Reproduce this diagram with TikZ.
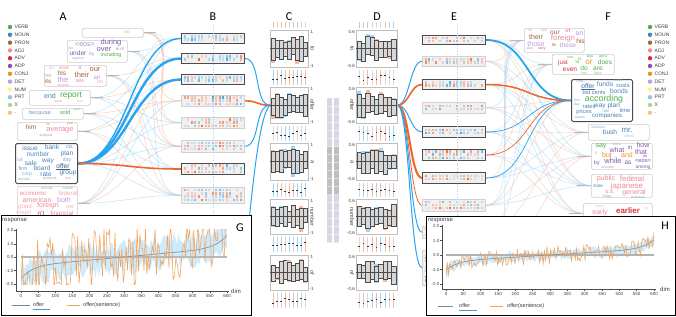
\documentclass[tikz,border=0pt]{standalone}
\usepackage{fontspec}
\setmainfont{Liberation Sans}
\newfontfamily\labfont{Carlito}
\usetikzlibrary{calc}
\pgfdeclarelayer{bg}
\pgfsetlayers{bg,main}
\definecolor{cblue}{HTML}{29A3EF}
\definecolor{corange}{HTML}{F0652A}
\definecolor{cverb}{HTML}{4FAE4A}
\definecolor{cnoun}{HTML}{4A83B8}
\definecolor{cpron}{HTML}{A8603A}
\definecolor{cadj}{HTML}{EE8A98}
\definecolor{cadv}{HTML}{D9303E}
\definecolor{cadp}{HTML}{7F58B0}
\definecolor{cconj}{HTML}{F7901E}
\definecolor{cdet}{HTML}{BC9EDA}
\definecolor{cnum}{HTML}{FFF38A}
\definecolor{cprt}{HTML}{9CC2E8}
\definecolor{cx}{HTML}{A9D889}
\definecolor{cpun}{HTML}{F9C48B}
\definecolor{lorange}{HTML}{EFA35C}
\definecolor{lav}{HTML}{D8D8E4}
\definecolor{sline}{HTML}{6F8AA3}
\newcounter{wc}
\newcommand{\cw}[5]{\stepcounter{wc}\pgfmathsetmacro\fsz{#3*0.88}\node[wtxt, font=\fontsize{\fsz}{\fsz}\selectfont, text=#4] (w\thewc) at (#1,#2) {#5};}
\newcommand{\cwu}[5]{\cw{#1}{#2}{#3}{#4}{#5}\draw[#4, line width=0.4pt] ($(w\thewc.south west)+(0,0.6)$) -- ($(w\thewc.south east)+(0,0.6)$);}
\newcommand{\conn}[4][]{\draw[#1] (#2) .. controls +(#4,0) and +(-#4,0) .. (#3);}
\newcommand{\heat}[7]{%
  \node[#7, minimum width=63pt, minimum height=#4pt] (#1) at (#2,#3) {};%
  \foreach \i in {0,...,16}{\foreach \j in {1,...,#5}{%
    \pgfmathsetmacro\rr{rnd}%
    \pgfmathsetmacro\oo{0.2+0.8*rnd*rnd}%
    \pgfmathsetmacro\yy{#3+(#4-((#5-1)*3.2+2.4))/2+(\j-1)*3.2}%
    \pgfmathsetmacro\xx{#2+2.5+\i*3.5}%
    \ifdim\rr pt<0.25pt\relax\else
      \ifdim\rr pt<#6pt\def\hcol{cblue}\else\def\hcol{corange}\fi
      \fill[fill=\hcol, fill opacity=\oo] (\xx,\yy) rectangle +(2.4,2.4);%
    \fi}}%
}
\newcommand{\cpanel}[5]{%
  \node[pframe, minimum width=#4pt, minimum height=#5pt] (#1) at (#2,#3) {};%
  \pgfmathsetmacro\pnCy{#3+#5/2}%
  \pgfmathsetmacro\pnBw{(#4-2)/9}%
  \foreach \i in {0,...,8}{%
    \pgfmathsetmacro\pnX{#2+1+\i*\pnBw}%
    \pgfmathsetmacro\pnU{#5/2*(0.3+0.4*rnd)}%
    \pgfmathsetmacro\pnD{#5/2*(0.3+0.4*rnd)}%
    \pgfmathsetmacro\pnCU{\pnU*(0.75+0.55*rnd)}%
    \pgfmathsetmacro\pnCD{\pnD*(0.75+0.55*rnd)}%
    \pgfmathsetmacro\rr{rnd}%
    \ifdim\rr pt<0.5pt\def\hcol{cblue!45}\else\def\hcol{corange!45}\fi
    \fill[fill=\hcol] (\pnX,\pnCy-\pnCU) rectangle (\pnX+\pnBw,\pnCy+\pnCD);%
    \filldraw[fill=gray!30, fill opacity=0.9, draw=black!70, line width=0.5pt] (\pnX,\pnCy-\pnU) rectangle (\pnX+\pnBw,\pnCy+\pnD);%
  }%
  \draw[black!70, line width=0.4pt] (#2,\pnCy) -- (#2+#4,\pnCy);%
}
\newcommand{\spark}[5]{%
  \pgfmathsetmacro\skBw{(#3-2)/9}%
  \foreach \i in {0,...,8}{%
    \pgfmathsetmacro\skX{#1+1+(\i+0.5)*\skBw}%
    \pgfmathsetmacro\rr{rnd}%
    \ifdim\rr pt<0.4pt\def\hcol{gray!30}\else\ifdim\rr pt<0.7pt\def\hcol{cblue!45}\else\def\hcol{corange!45}\fi\fi
    \draw[draw=\hcol, line width=0.9pt] (\skX,#2) -- (\skX,#2+#4);%
    \ifnum#5=1 \pgfmathsetmacro\skY{#2+#4*(0.35+0.35*rnd)}\fill[black!80] (\skX-0.8,\skY-0.4) rectangle (\skX+0.8,\skY+0.4);\fi
  }%
}
\begin{document}
\begin{tikzpicture}[x=1pt,y=-1pt,
  declare function={uu(\argx)=(\argx-300)/300; gf(\argx)=0.7*uu(\argx)+0.9*uu(\argx)^9; hf(\argx)=0.45*uu(\argx)+0.6*uu(\argx)^9;},
  wtxt/.style={inner sep=0pt, outer sep=0pt},
  cbox/.style={draw=gray!40, line width=0.6pt, rounded corners=1.5pt, fill=white, inner sep=0pt, anchor=north west},
  cboxhl/.style={cbox, draw=black!70, line width=1pt},
  hbox/.style={draw=gray!35, fill=gray!12, line width=0.6pt, inner sep=0pt, anchor=north west},
  hboxhl/.style={hbox, draw=black!70, line width=1pt},
  pframe/.style={draw=gray!50, fill=white, line width=0.4pt, inner sep=0pt, anchor=north west},
  ptxt/.style={inner sep=0pt, font=\fontsize{4.5}{4.5}\selectfont, text=black!75},
  legtxt/.style={inner sep=0pt, anchor=west, font=\fontsize{5}{5}\selectfont, text=black!75},
  axtxt/.style={inner sep=0pt, font=\fontsize{4.5}{4.5}\selectfont, text=black!75},
  bigl/.style={inner sep=0pt, font=\labfont\fontsize{12}{12}\selectfont},
  faint/.style={line width=0.7pt, opacity=0.4},
  stub/.style={draw=gray!55, line width=0.9pt},
  panelbox/.style={draw=black, line width=0.8pt, fill=white, inner sep=0pt, anchor=north west}
]
\useasboundingbox (0,0) rectangle (676,316);
\pgfmathsetseed{11}

% ---------- column letters
\node[bigl] (LA) at (63,17) {A};
\node[bigl] (LB) at (213,17) {B};
\node[bigl] (LC) at (289,17) {C};
\node[bigl] (LD) at (377,17) {D};
\node[bigl] (LE) at (454,17) {E};
\node[bigl] (LF) at (608,17) {F};

% ---------- legends
\foreach \lab/\col [count=\k] in {VERB/cverb, NOUN/cnoun, PRON/cpron, ADJ/cadj, ADV/cadv, ADP/cadp, CONJ/cconj, DET/cdet, NUM/cnum, PRT/cprt, X/cx, ./cpun}{
  \pgfmathsetmacro\ly{27+(\k-1)*7.8}
  \fill[fill=\col] (10,\ly) circle (2.2);
  \node[legtxt] (LL\k) at (14.5,\ly) {\lab};
  \fill[fill=\col] (650,\ly) circle (2.2);
  \node[legtxt] (RL\k) at (654.5,\ly) {\lab};
}

% ---------- A boxes
\node[cbox, minimum width=61pt, minimum height=9pt] (A1) at (82,28) {};
\node[cbox, minimum width=60pt, minimum height=22pt] (A2) at (67,40) {};
\node[cbox, minimum width=62pt, minimum height=21pt] (A3) at (44,65) {};
\node[cbox, minimum width=61pt, minimum height=15pt] (A4) at (29,90) {};
\node[cbox, minimum width=61pt, minimum height=11pt] (A5) at (22,108) {};
\node[cbox, minimum width=60pt, minimum height=18pt] (A6) at (17,122) {};
\node[cboxhl, minimum width=62pt, minimum height=40pt] (A7) at (15,143) {};
\node[cbox, minimum width=60pt, minimum height=34pt] (A8) at (17,186) {};

% A words
\cw{127}{31.5}{5}{cx}{did}
\cw{85}{44}{8}{cadp!70}{<eos>}
\cw{111}{42.5}{8.5}{cadp}{during}
\cw{71}{48}{4}{cdet}{like}
\cw{104}{49.5}{8.5}{cadp}{over}
\cw{120}{48.5}{5}{cadp!70}{in of}
\cw{78}{53}{7.5}{cadp}{under}
\cw{92}{54.5}{5.5}{cadp!70}{by}
\cw{111}{55}{6}{cverb}{including}
\cw{78}{58.5}{4}{cadp!60}{against}
\cw{52}{68}{5}{cprt}{mr.}
\cw{64}{68}{5}{cadj}{more}
\cw{80}{68.5}{6}{cdet}{a}
\cw{95}{69.5}{8.5}{cpron}{our}
\cw{62}{73.5}{7.5}{cpron}{his}
\cw{82}{75}{8.5}{cpron}{their}
\cw{97}{77.5}{7}{cdet}{an}
\cw{48}{76}{6}{cpron!60}{her}
\cw{63}{79.8}{9}{cdet}{the}
\cw{48}{81.5}{7}{cpron}{its}
\cw{80}{81.5}{6}{cadj}{ass}
\cw{100}{81.5}{6}{cadj!70}{ho}
\cw{63}{85}{4}{cadj}{several}
\cw{50}{96}{8}{cnoun}{end}
\cw{71}{95.5}{9.5}{cverb}{report}
\cw{58}{101}{4}{cadj}{such}
\cw{80}{101}{4}{cx}{five}
\cw{40}{112.5}{6.5}{cnoun!80}{because}
\cw{65}{112.5}{6.5}{cverb}{sold}
\cw{77}{110}{4}{cnoun!60}{year}
\cw{31}{127.5}{7.5}{cpron}{him}
\cw{48}{124}{4}{cpron!70}{he}
\cw{70}{124}{4}{cpron!70}{you}
\cw{60}{130}{8.5}{cadj}{average}
\cw{46}{136}{4}{cnoun!70}{analysis}
\cw{30}{148}{7.5}{cnoun}{issue}
\cw{52}{147}{7.5}{cnoun}{bank}
\cw{70}{147.5}{6}{cnoun}{co.}
\cw{38}{154.5}{7.5}{cnoun}{number}
\cw{67}{154}{7.5}{cnoun}{plan}
\cw{20}{160}{5}{cnoun!70}{bill}
\cw{31}{163.5}{7.5}{cnoun}{sale}
\cw{48}{161}{7.5}{cnoun}{way}
\cw{67}{160}{6}{cnoun!70}{day}
\cw{23}{168.6}{6}{cnoun!80}{firm}
\cw{42}{168}{7.5}{cnoun}{board}
\cwu{63}{166.5}{7.5}{cnoun!70!black}{offer}
\cw{27}{174.3}{6}{cnoun!60}{corp}
\cw{46}{174}{7.5}{cnoun}{rate}
\cw{68}{173}{7.5}{cnoun}{group}
\cw{24}{179.3}{4}{cnoun!70}{records}
\cw{50}{179}{4}{cnoun!70}{products}
\cw{68}{179}{4}{cadj}{yen}
\cw{47}{188.5}{4.5}{cnoun!60}{money}
\cw{68}{188.5}{4.5}{cnoun!60}{house}
\cw{33}{193}{7}{cadj}{economic}
\cw{68}{193}{7}{cadj!70}{federal}
\cw{37}{199.5}{8}{cadj}{american}
\cw{64}{200}{8}{cdet}{both}
\cw{25}{206.5}{7}{cadj!70}{good}
\cw{48}{206}{8}{cadj}{foreign}
\cw{70}{206.5}{6}{cadj!70}{net}
\cw{24}{213}{7}{cadj!60}{major}
\cw{41}{213}{7}{cadv}{n't}
\cw{62}{213}{7}{cadj}{financial}

% ---------- B heat boxes
\heat{B1}{181}{33}{10}{2}{0.75}{hboxhl}
\heat{B2}{181}{53}{10}{2}{0.8}{hboxhl}
\heat{B3}{181}{74}{10}{2}{0.7}{hboxhl}
\heat{B4}{181}{95}{11}{3}{0.42}{hbox}
\heat{B5}{181}{117}{11}{3}{0.45}{hbox}
\heat{B6}{181}{140}{12}{3}{0.6}{hbox}
\heat{B7}{181}{163}{11}{3}{0.4}{hboxhl}
\heat{B8}{181}{187}{16}{4}{0.55}{hbox}

% ---------- E heat boxes
\heat{E1}{422}{35}{9}{2}{0.6}{hboxhl}
\heat{E2}{422}{56}{10}{2}{0.55}{hbox}
\heat{E3}{422}{79}{10}{2}{0.6}{hboxhl}
\heat{E4}{422}{102}{11}{2}{0.5}{hbox}
\heat{E5}{422}{126}{11}{2}{0.7}{hboxhl}
\heat{E6}{422}{149}{11}{3}{0.55}{hboxhl}
\heat{E7}{422}{172}{11}{2}{0.6}{hboxhl}
\heat{E8}{422}{199}{12}{3}{0.45}{hbox}
\heat{E9}{422}{226}{12}{3}{0.5}{hbox}
\heat{E10}{422}{250}{35}{9}{0.5}{hbox}
\draw[cblue!45, dotted, line width=0.6pt] (213,25) -- (213,215);
\draw[cblue!45, dotted, line width=0.6pt] (457,25) -- (457,216);

% ---------- F boxes
\node[cbox, minimum width=60pt, minimum height=24pt] (F1) at (524,28) {};
\node[cbox, minimum width=62pt, minimum height=20pt] (F2) at (552,54) {};
\node[cboxhl, minimum width=61pt, minimum height=42pt] (F3) at (571,79) {};
\node[cbox, minimum width=61pt, minimum height=16pt] (F4) at (588,124) {};
\node[cbox, minimum width=61pt, minimum height=26pt] (F5) at (591,143) {};
\node[cbox, minimum width=61pt, minimum height=23pt] (F6) at (591,174) {};
\node[cbox, minimum width=69pt, minimum height=20pt] (F7) at (583,203) {};

% F words
\cw{530}{30.5}{4}{cpron!60}{he}
\cw{544}{30.5}{4}{cdet}{any}
\cw{555}{32.3}{7.5}{cpron}{our}
\cw{568}{31}{5}{cadv}{n't}
\cw{579.5}{34}{8}{cdet}{an}
\cw{536}{36.8}{8}{cpron}{their}
\cw{563}{38.8}{9}{cadj}{foreign}
\cw{580.5}{41.3}{7.5}{cpron}{his}
\cw{536}{43.8}{8}{cdet}{those}
\cw{554}{45}{5}{cpron}{its}
\cw{568}{45}{7.5}{cdet}{these}
\cw{530}{48.5}{4}{cnoun!70}{also}
\cw{542}{48.5}{4}{cadv}{very}
\cw{570}{57.5}{4}{cverb}{can}
\cw{580}{58.5}{5}{cverb}{is}
\cw{590}{56.5}{4}{cverb}{also}
\cw{603}{56.5}{4}{cverb}{were}
\cw{563}{63}{7}{cadv}{just}
\cw{577}{62.5}{5}{cverb}{'re}
\cw{589}{62.3}{9}{cconj}{or}
\cw{605}{62}{7.5}{cverb}{does}
\cw{570}{69.5}{7.5}{cadv}{even}
\cw{584}{68.6}{7.5}{cverb}{do}
\cw{598}{68.6}{7.5}{cverb}{are}
\cw{584}{73.2}{4}{cverb!70}{has}
\cw{598}{73.2}{4}{cverb!70}{have}
\cw{580}{81.5}{4}{cnoun!70}{corp.}
\cw{618}{80.6}{4}{cnoun!70}{court}
\cwu{588}{86}{7.5}{cnoun!80!black}{offer}
\cw{605}{84.2}{7.5}{cnoun}{funds}
\cw{623}{85.8}{6.5}{cnoun}{costs}
\cw{594}{92.3}{6.5}{cnoun}{bid cents}
\cw{619}{91.3}{7.5}{cnoun}{bonds}
\cw{604}{99.3}{10}{cverb}{according}
\cw{577}{100.5}{4}{cnoun!70}{firm}
\cw{577}{104.5}{4}{cnoun!70}{day}
\cw{607}{105.8}{7.5}{cnoun}{way plan}
\cw{589}{106.8}{6.5}{cnoun}{rates}
\cw{625}{110.8}{6.5}{cnoun}{time}
\cw{584}{112}{6.5}{cnoun}{prices}
\cw{606}{111.4}{4.5}{cnoun!70}{rate}
\cw{580}{117.2}{4}{cnoun!70}{assets}
\cw{607}{116}{7}{cnoun}{companies}
\cw{598}{127}{4}{cnoun!70}{investors}
\cw{610}{132}{7.5}{cnoun}{bush}
\cw{627}{130}{9}{cnoun}{mr.}
\cw{629}{136.5}{4}{cnoun!50}{others}
\cw{601}{146}{8}{cverb}{say}
\cw{617}{144.3}{4}{cadp!60}{since}
\cw{630}{147}{6.5}{cadp}{in}
\cw{643}{145.4}{8}{cadp}{how}
\cw{617}{150}{8}{cadp}{what}
\cw{596}{153}{4}{cadp!60}{if}
\cw{607}{155}{8}{cconj}{but}
\cw{627}{155}{8}{cconj}{and}
\cw{641}{151.8}{8}{cadp}{that}
\cw{645}{156.4}{4.5}{cadp}{on}
\cw{597}{163}{6}{cadp}{by}
\cw{613}{161}{8.5}{cadp}{while}
\cw{628}{163}{7.5}{cadp}{as}
\cw{643}{161}{6.5}{cadp}{<eos>}
\cw{608}{166.8}{4}{cadp!60}{at under}
\cw{643}{167.6}{5.5}{cadp}{among}
\cw{606}{179}{8}{cadj}{public}
\cw{632}{178.4}{9}{cadj}{federal}
\cw{598}{186}{5}{cnoun}{state}
\cw{627}{186}{9}{cadj}{japanese}
\cw{610}{191.5}{6.5}{cadj}{u.s.}
\cw{634}{192.2}{8}{cadj}{general}
\cw{607}{196.5}{4}{cnoun!70}{friday}
\cw{638}{197}{4}{cnoun!60}{chairman}
\cw{600}{207}{4}{cadj!70}{own a}
\cw{600}{212.5}{8}{cadj}{early}
\cw{628}{211}{9}{cadv}{\bfseries earlier}
\cw{646}{208}{4}{cadj!70}{of}

% ---------- C and D panels
\foreach \yy/\hh/\dd in {22/6/0, 70/15/1, 126/15/1, 183/14/1, 237/15/1, 293/15/1}{
  \spark{270}{\yy}{38}{\hh}{\dd}
  \spark{356}{\yy}{41}{\hh}{\dd}
}
\cpanel{C1}{270}{30}{38}{37}
\cpanel{C2}{270}{87}{38}{36}
\cpanel{C3}{270}{143}{38}{37}
\cpanel{C4}{270}{199}{38}{35}
\cpanel{C5}{270}{255}{38}{35}
\cpanel{D1}{356}{30}{41}{37}
\cpanel{D2}{356}{87}{41}{36}
\cpanel{D3}{356}{143}{41}{37}
\cpanel{D4}{356}{199}{41}{35}
\cpanel{D5}{356}{255}{41}{35}
\foreach \nm/\wrd [count=\k] in {C1/to, C2/offer, C3/a, C4/number, C5/of}{
  \node[ptxt, anchor=west] (Ct\k) at ($(\nm.north east)+(2,1.5)$) {1};
  \node[ptxt, anchor=west] (Cb\k) at ($(\nm.south east)+(1,-1.5)$) {-1};
  \node[ptxt, rotate=-90, font=\fontsize{5.5}{5.5}\selectfont] (Cw\k) at ($(\nm.east)+(4,0)$) {\wrd};
}
\foreach \nm/\wrd [count=\k] in {D1/to, D2/offer, D3/a, D4/number, D5/of}{
  \node[ptxt, anchor=east] (Dt\k) at ($(\nm.north west)+(-1,1.5)$) {0.6};
  \node[ptxt, anchor=east] (Db\k) at ($(\nm.south west)+(-1,-1.5)$) {-0.6};
  \node[ptxt, rotate=-90, font=\fontsize{5.5}{5.5}\selectfont] (Dw\k) at ($(\nm.west)+(-4,0)$) {\wrd};
}

% ---------- middle bars
\fill[lav] (327,98) rectangle (332,243);
\fill[lav] (334,98) rectangle (339,243);
\fill[gray!50] (327,147) rectangle (332,195);
\fill[gray!50] (334,147) rectangle (339,195);
\foreach \yy in {106,114,...,242}{\draw[white, opacity=0.5, line width=0.3pt] (327,\yy) -- (332,\yy) (334,\yy) -- (339,\yy);}

% ---------- connectors on background layer
\coordinate (gend) at (249,222);
\begin{pgfonlayer}{bg}
  \foreach \a in {A1,A2,A3,A4,A5,A6,A7,A8}{\draw[stub] (\a.east) -- ++(12,0);}
  \foreach \f in {F1,F2,F3,F4,F5,F6,F7}{\draw[stub] (\f.west) -- ++(-14,0);}
  \foreach \a/\b/\c in {A1/B4/corange, A1/B5/corange, A1/B2/cblue, A1/B6/corange, A2/B1/cblue, A2/B5/cblue, A2/B6/corange, A2/B8/cblue,
     A3/B2/corange, A3/B6/cblue, A3/B7/cblue, A3/B8/corange, A4/B1/cblue, A4/B5/gray, A4/B3/corange, A4/B7/cblue,
     A5/B2/cblue, A5/B6/gray, A5/B8/cblue, A6/B3/cblue, A6/B4/corange, A6/B7/cblue, A6/B8/corange, A7/B5/cblue,
     A7/B6/cblue, A7/B8/cblue, A8/B1/cblue, A8/B3/corange, A8/B4/cblue, A8/B8/cblue, A8/B6/corange, A5/B4/corange}{
    \conn[faint, draw=\c!60]{\a.east}{\b.west}{45}
  }
  \foreach \a/\b/\c in {E1/F1/corange, E1/F2/cblue, E1/F5/cblue, E1/F6/corange, E2/F1/corange, E2/F4/cblue, E2/F6/cblue, E2/F7/corange,
     E3/F2/corange, E3/F5/cblue, E3/F7/cblue, E4/F1/cblue, E4/F3/gray, E4/F5/corange, E4/F6/cblue,
     E5/F2/cblue, E5/F4/corange, E5/F7/cblue, E6/F1/cblue, E6/F2/corange, E6/F6/cblue, E6/F7/corange,
     E7/F1/corange, E7/F4/cblue, E7/F5/cblue, E8/F1/cblue, E8/F2/cblue, E8/F3/corange, E8/F5/corange, E8/F6/cblue,
     E9/F2/cblue, E9/F4/corange, E10/F1/cblue, E10/F5/corange, E3/F4/corange, E5/F6/cblue}{
    \conn[faint, draw=\c!55]{\a.east}{\b.west}{40}
  }
  % highlighted A->B
  \conn[draw=cblue, line width=1.4pt]{A7.east}{B1.west}{50}
  \conn[draw=cblue, line width=2.4pt]{A7.east}{B2.west}{50}
  \conn[draw=cblue, line width=2.4pt]{A7.east}{B3.west}{50}
  \conn[draw=corange, line width=1.6pt]{A7.east}{B7.west}{50}
  % B->C
  \conn[draw=cblue, line width=1pt]{B2.east}{C2.west}{16}
  \conn[draw=corange, line width=1.6pt]{B4.east}{C2.west}{14}
  \conn[draw=cblue, line width=1pt]{B6.east}{C2.west}{16}
  \draw[cblue, line width=1pt] (C2.west) .. controls +(-10,8) and +(4,-40) .. (gend);
  % D->E
  \conn[draw=cblue, line width=1pt]{D2.east}{E2.west}{12}
  \conn[draw=corange, line width=1.6pt]{D2.east}{E3.west}{12}
  \conn[draw=cblue, line width=1pt]{D2.east}{E5.west}{12}
  \conn[draw=corange, line width=2pt]{D2.east}{E7.west}{12}
  \conn[draw=corange, line width=0.8pt]{D2.east}{E8.west}{12}
  \conn[draw=cblue, line width=1pt]{D2.east}{E9.west}{12}
  \conn[draw=cblue, line width=1pt]{D2.east}{E10.west}{12}
  % E->F
  \conn[draw=cblue, line width=1.8pt]{E1.east}{F3.west}{45}
  \conn[draw=corange, line width=1.5pt]{E3.east}{F3.west}{45}
  \conn[draw=cblue, line width=0.7pt]{E5.east}{F3.west}{45}
  \conn[draw=corange, line width=0.7pt]{E6.east}{F3.west}{45}
  \conn[draw=cblue, line width=0.7pt]{E7.east}{F3.west}{45}
\end{pgfonlayer}

% ---------- panel G
\node[panelbox, minimum width=250pt, minimum height=100pt] (G) at (1,215) {};
\node[bigl] (Glab) at (240,228) {G};
\node[axtxt, anchor=west, font=\fontsize{6}{6}\selectfont] (Gresp) at (2,221) {response};
\begin{scope}[shift={(21,257)}, x=0.3433pt, y=13.45pt]
  \begin{scope}
    \clip (0,-2.05) rectangle (600,2.05);
    \fill[cblue!22] plot[domain=0:600, samples=120] (\x,{gf(\x)+0.3+1.1*rnd}) -- plot[domain=600:0, samples=120] (\x,{gf(\x)-0.3-1.1*rnd}) -- cycle;
    \draw[gray!55, line width=1.3pt] (0,0) -- (600,0);
    \draw[sline, line width=0.6pt] plot[domain=0:600, samples=60] (\x,{gf(\x)});
    \draw[lorange, line width=0.55pt] plot[domain=0:600, samples=150] (\x,{gf(\x)+2.3*(2*rnd-1)});
  \end{scope}
\end{scope}
\draw[black!70, line width=0.4pt] (16,229) -- (16,291) -- (229,291);
\foreach \v/\py in {2.0/230, 1.0/244, 0.0/257, -1.0/270.5, -2.0/284}{
  \draw[black!70, line width=0.4pt] (14,\py) -- (16,\py);
  \node[axtxt, anchor=east] (Gy\py) at (13.5,\py) {\v};
}
\foreach \k in {0,...,12}{
  \pgfmathsetmacro\px{21+\k*206/12}
  \pgfmathtruncatemacro\lv{\k*50}
  \draw[black!70, line width=0.4pt] (\px,291) -- (\px,293);
  \node[axtxt] (Gx\k) at (\px,296) {\lv};
}
\node[axtxt, anchor=west, font=\fontsize{6}{6}\selectfont] (Gdim) at (231,291) {dim};
\draw[sline, line width=0.8pt] (12,305) -- (30,305);
\node[axtxt, anchor=west, font=\fontsize{5.5}{5.5}\selectfont] (Gl1) at (33,305) {offer};
\draw[cblue!70!gray, line width=0.6pt] (33,309) -- (50,309);
\draw[lorange, line width=0.8pt] (67,305) -- (80,305);
\node[axtxt, anchor=west, font=\fontsize{5.5}{5.5}\selectfont] (Gl2) at (83,305) {offer(sentence)};

% ---------- panel H
\node[panelbox, minimum width=249pt, minimum height=99pt] (H) at (426,216) {};
\node[bigl] (Hlab) at (665,226) {H};
\node[axtxt, anchor=west, font=\fontsize{6}{6}\selectfont] (Hresp) at (428,221) {response};
\begin{scope}[shift={(446,255)}, x=0.3467pt, y=14.3pt]
  \begin{scope}
    \clip (0,-2.05) rectangle (600,2.05);
    \fill[cblue!22] plot[domain=0:600, samples=150] (\x,{hf(\x)+0.08+0.4*rnd}) -- plot[domain=600:0, samples=150] (\x,{hf(\x)-0.08-0.4*rnd}) -- cycle;
    \draw[gray!60, line width=1.1pt] (0,0) -- (600,0);
    \draw[sline, line width=0.6pt] plot[domain=0:600, samples=60] (\x,{hf(\x)});
    \draw[lorange, line width=0.55pt] plot[domain=0:600, samples=170] (\x,{hf(\x)+0.6*(2*rnd-1)});
  \end{scope}
\end{scope}
\draw[black!70, line width=0.4pt] (442,225) -- (442,289) -- (656,289);
\foreach \v/\py in {2.0/226, 1.0/240.5, 0.0/255, -1.0/269.5, -2.0/284}{
  \draw[black!70, line width=0.4pt] (440,\py) -- (442,\py);
  \node[axtxt, anchor=east] (Hy\py) at (439.5,\py) {\v};
}
\foreach \k in {0,...,12}{
  \pgfmathsetmacro\px{446+\k*208/12}
  \pgfmathtruncatemacro\lv{\k*50}
  \draw[black!70, line width=0.4pt] (\px,289) -- (\px,291);
  \node[axtxt] (Hx\k) at (\px,294) {\lv};
}
\node[axtxt, anchor=west, font=\fontsize{6}{6}\selectfont] (Hdim) at (660,289) {dim};
\draw[sline, line width=0.8pt] (438,306) -- (453,306);
\node[axtxt, anchor=west, font=\fontsize{5.5}{5.5}\selectfont] (Hl1) at (459,306) {offer};
\draw[cblue!70!gray, line width=0.6pt] (459,310) -- (477,310);
\draw[lorange, line width=0.8pt] (490,306) -- (503,306);
\node[axtxt, anchor=west, font=\fontsize{5.5}{5.5}\selectfont] (Hl2) at (507,306) {offer(sentence)};
\end{tikzpicture}
\end{document}
